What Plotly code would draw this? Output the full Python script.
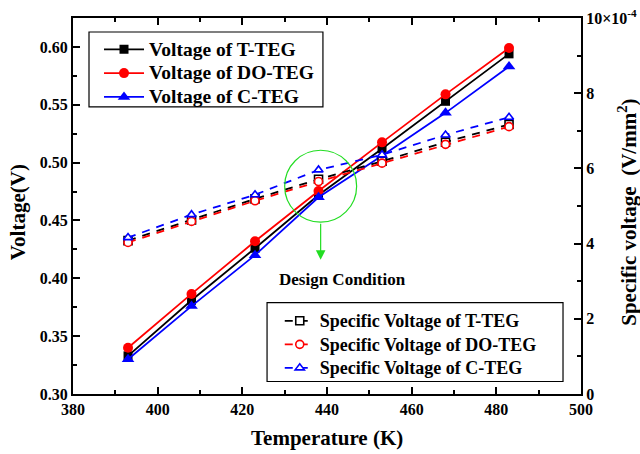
import plotly.graph_objects as go

temperature = [393, 408, 423, 438, 453, 468, 483]

voltage_t = [0.333, 0.381, 0.426, 0.472, 0.512, 0.553, 0.594]
voltage_do = [0.340, 0.3865, 0.432, 0.4755, 0.5175, 0.559, 0.599]
voltage_c = [0.330, 0.376, 0.420, 0.470, 0.506, 0.543, 0.583]

# specific voltage, in units of 1e-4 V/mm^2
spec_t = [4.08, 4.63, 5.19, 5.71, 6.19, 6.70, 7.17]
spec_do = [4.03, 4.59, 5.14, 5.65, 6.14, 6.64, 7.11]
spec_c = [4.16, 4.77, 5.30, 5.96, 6.36, 6.89, 7.36]

x_ticks = [380, 400, 420, 440, 460, 480, 500]
y2_ticks = [0, 2, 4, 6, 8, 10]
y2_ticktext = ["0", "2", "4", "6", "8", "10×10<sup>-4</sup>"]

FONT = "Liberation Serif, Times New Roman, serif"

fig = go.Figure()

def solid(name, y, color, symbol, size):
    fig.add_trace(go.Scatter(
        x=temperature, y=y, mode="lines+markers",
        name='<span style="font-size:19.5px">' + name + '</span>',
        line=dict(color=color, width=1.8),
        marker=dict(symbol=symbol, size=size, color=color),
        legend="legend"))

def dashed(name, y, color, symbol):
    fig.add_trace(go.Scatter(
        x=temperature, y=y, mode="lines+markers", yaxis="y2",
        name='<span style="font-size:18px">' + name + '</span>',
        line=dict(color=color, width=1.8, dash="8px,7px"),
        marker=dict(symbol=symbol, size=8, color="white",
                    line=dict(color=color, width=1.6)),
        legend="legend2"))

solid("Voltage of T-TEG", voltage_t, "#000000", "square", 9)
solid("Voltage of DO-TEG", voltage_do, "#ff0000", "circle", 10)
solid("Voltage of C-TEG", voltage_c, "#0000ff", "triangle-up", 11)

dashed("Specific Voltage of T-TEG", spec_t, "#000000", "square")
dashed("Specific Voltage of DO-TEG", spec_do, "#ff0000", "circle")
dashed("Specific Voltage of C-TEG", spec_c, "#0000ff", "triangle-up")

tickfont = dict(family=FONT, size=16, color="black", weight=700)

fig.update_layout(
    width=640, height=454,
    margin=dict(l=73, r=59, t=18, b=60, autoexpand=False),
    paper_bgcolor="white", plot_bgcolor="white",
    showlegend=True,
    xaxis=dict(
        range=[380, 500], tickvals=x_ticks, ticks="inside", ticklen=7,
        tickwidth=1.5, tickcolor="black", automargin=False,
        minor=dict(dtick=10, ticks="inside", ticklen=4, tickwidth=1.5, tickcolor="black"),
        showline=True, linecolor="black", linewidth=2, mirror="ticks",
        showgrid=False, zeroline=False, tickfont=tickfont),
    yaxis=dict(
        range=[0.30, 0.625], dtick=0.05, tick0=0.30, tickformat=".2f",
        ticks="inside", ticklen=7, tickwidth=1.5, tickcolor="black", automargin=False,
        minor=dict(dtick=0.025, ticks="inside", ticklen=4, tickwidth=1.5, tickcolor="black"),
        showline=True, linecolor="black", linewidth=2,
        showgrid=False, zeroline=False, tickfont=tickfont),
    yaxis2=dict(
        overlaying="y", side="right", range=[0, 10],
        tickvals=y2_ticks, ticktext=y2_ticktext, automargin=False,
        ticks="inside", ticklen=7, tickwidth=1.5, tickcolor="black",
        minor=dict(dtick=1, ticks="inside", ticklen=4, tickwidth=1.5, tickcolor="black"),
        showline=True, linecolor="black", linewidth=2,
        showgrid=False, zeroline=False, tickfont=tickfont),
    legend=dict(
        x=0.0512, y=0.9617, xanchor="left", yanchor="top",
        borderwidth=0, bgcolor="rgba(0,0,0,0)",
        font=dict(family=FONT, size=16, color="black", weight=700),
        itemwidth=40, tracegroupgap=0),
    legend2=dict(
        x=0.407, y=0.2393, xanchor="left", yanchor="top",
        borderwidth=0, bgcolor="rgba(0,0,0,0)",
        font=dict(family=FONT, size=15.8, color="black", weight=700),
        itemwidth=30, tracegroupgap=0),
)

# legend frames
fig.add_shape(type="rect", xref="paper", yref="paper",
              x0=0.0315, x1=0.492, y0=0.7636, y1=0.9628,
              line=dict(color="black", width=1.2), fillcolor="white", layer="below")
fig.add_shape(type="rect", xref="paper", yref="paper",
              x0=0.382, x1=0.9646, y0=0.0332, y1=0.243,
              line=dict(color="black", width=1.2), fillcolor="white", layer="below")

# design condition circle and arrow
fig.add_shape(type="circle", xref="x", yref="y",
              x0=430.0, x1=447.0, y0=0.4485, y1=0.5107,
              line=dict(color="#22dd22", width=1.2))
fig.add_annotation(x=438.5, y=0.416, ax=438.5, ay=0.4485, xref="x", yref="y",
                   axref="x", ayref="y", showarrow=True, arrowhead=2,
                   arrowsize=1.6, arrowwidth=1.2, arrowcolor="#22dd22", text="")
fig.add_annotation(x=443.6, y=0.399, xref="x", yref="y", showarrow=False,
                   text="Design Condition", xanchor="center", yanchor="middle",
                   font=dict(family=FONT, size=17, color="black", weight=700))

# axis titles
titlefont = dict(family=FONT, size=21, color="black", weight=700)
fig.add_annotation(x=0.5, y=-0.117, xref="paper", yref="paper", showarrow=False,
                   xanchor="center", yanchor="middle",
                   text="Temperature (K)", font=titlefont)
fig.add_annotation(x=-0.108, y=0.484, xref="paper", yref="paper", showarrow=False,
                   xanchor="center", yanchor="middle",
                   text="Voltage(V)", textangle=-90, font=titlefont)
fig.add_annotation(x=1.09, y=0.484, xref="paper", yref="paper", showarrow=False,
                   xanchor="center", yanchor="middle",
                   text="Specific voltage  (V/mm<sup>2</sup>)", textangle=-90,
                   font=titlefont)

fig.write_html("out.html", config={"displayModeBar": False},
               post_script="document.body.style.margin='0';")
